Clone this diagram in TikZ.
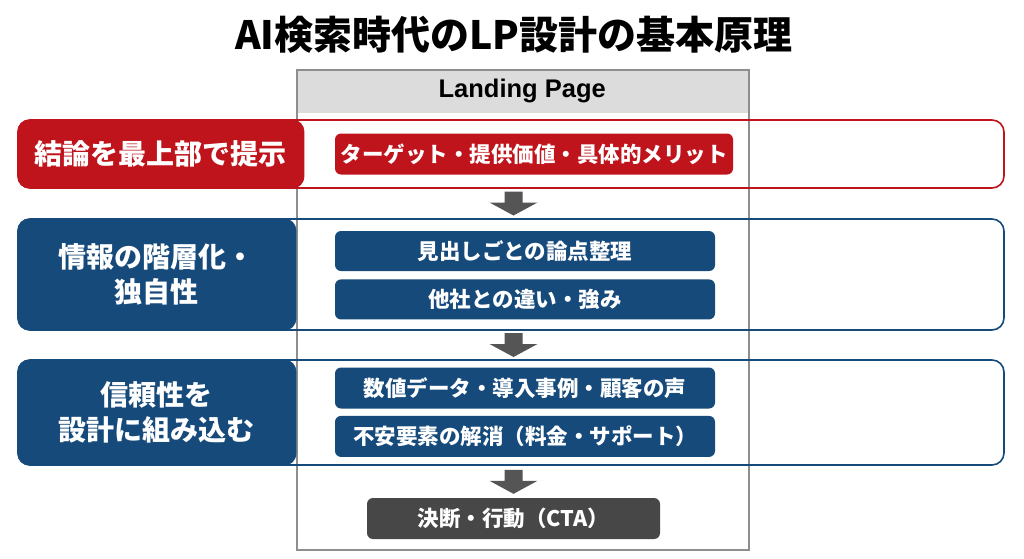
\documentclass[tikz,border=0pt]{standalone}
\usepackage{fontspec}
\setmainfont{Noto Sans CJK JP}
\newfontfamily\lplatin{Liberation Sans}
\usetikzlibrary{calc}
\usetikzlibrary{positioning}
\definecolor{lpred}{HTML}{C0141C}
\definecolor{lpblue}{HTML}{164A7B}
\definecolor{lpdark}{HTML}{474747}
\definecolor{lparrow}{HTML}{555555}
\definecolor{lphead}{HTML}{DCDCDC}
\definecolor{lpframe}{HTML}{8E8E8E}
\tikzset{
	rowframe/.style={
		draw=#1, line width=1.6pt,
		rounded corners=12pt,
		minimum width=986pt},
	rowlabel/.style={
		fill=#1, rounded corners=12pt,
		text=white, align=center,
		font=\fontsize{28}{35}\selectfont\bfseries,
		inner sep=0pt, anchor=west},
	itembox/.style={
		fill=#1, rounded corners=6pt,
		text=white,
		font=\fontsize{21.5}{24}\selectfont\bfseries,
		minimum height=41pt, inner sep=0pt},
	blockarrow/.pic={
		\fill[lparrow] (-9,-12) -- (9,-12) -- (9,-1) -- (24,-1) -- (0,12) -- (-24,-1) -- (-9,-1) -- cycle;},
}

\begin{document}
\begin{tikzpicture}[x=1pt,y=-1pt]
	\useasboundingbox[fill=white] (0,0) rectangle (1024,558);
	
	\node[font=\fontsize{39}{44}\selectfont\bfseries] (title) at (514,35) {AI検索時代のLP設計の基本原理};
	
	% landing page frame
	\node[fill=lphead, minimum width=452pt, minimum height=44pt, anchor=north west, inner sep=0pt,
		font=\lplatin\bfseries\fontsize{25.5}{30}\selectfont] (lphead) at (296,69) {Landing Page};
	\node[draw=lpframe, line width=1.6pt, minimum width=452pt, minimum height=480pt, anchor=north west] (lp) at (296,69) {};
	
	% rows
	\node[rowframe=lpred, minimum height=68pt] (r1) at (511,154) {};
	\node[rowframe=lpblue, minimum height=111pt] (r2) at (511,274.5) {};
	\node[rowframe=lpblue, minimum height=105pt] (r3) at (511,412.5) {};
	
	\node[rowlabel=lpred, minimum width=287pt, minimum height=69pt] (l1) at (r1.west) {結論を最上部で提示};
	\node[rowlabel=lpblue, minimum width=279pt, minimum height=112pt] (l2) at (r2.west) {情報の階層化・\\独自性};
	\node[rowlabel=lpblue, minimum width=279pt, minimum height=106pt] (l3) at (r3.west) {信頼性を\\設計に組み込む};
	
	\node[itembox=lpred, minimum width=398pt] (i1) at (534,154) {ターゲット・提供価値・具体的メリット};
	\node[itembox=lpblue, minimum width=380pt, minimum height=40pt] (i2) at (525,251) {見出しごとの論点整理};
	\node[itembox=lpblue, minimum width=380pt, minimum height=40pt, below=8pt of i2] (i3) {他社との違い・強み};
	\node[itembox=lpblue, minimum width=380pt] (i4) at (525,388) {数値データ・導入事例・顧客の声};
	\node[itembox=lpblue, minimum width=380pt, below=7pt of i4] (i5) {不安要素の解消（料金・サポート）};
	
	\node[itembox=lpdark, minimum width=293pt] (cta) at (513.5,518.5) {決断・行動（CTA）};
	
	% arrows
	\coordinate (a1) at ($(r1.south)!.5!(r2.north)$);
	\coordinate (a2) at ($(r2.south)!.5!(r3.north)$);
	\coordinate (a3) at ($(r3.south)!.5!(cta.north)$);
	\pic at (cta |- a1) {blockarrow};
	\pic at (cta |- a2) {blockarrow};
	\pic at (cta |- a3) {blockarrow};
	
\end{tikzpicture}
\end{document}
